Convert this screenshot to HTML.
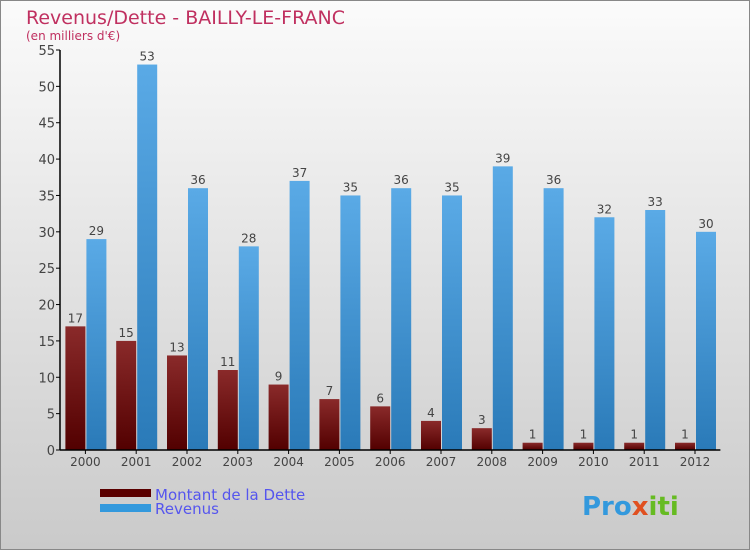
<!DOCTYPE html>
<html><head><meta charset="utf-8"><style>
body{margin:0}
svg{display:block;font-family:"DejaVu Sans","Liberation Sans",sans-serif}
</style></head><body>
<svg width="750" height="550" viewBox="0 0 750 550">
<defs>
<linearGradient id="bg" x1="0" y1="0" x2="0" y2="1"><stop offset="0" stop-color="#fbfbfb"/><stop offset="1" stop-color="#cacaca"/></linearGradient>
<linearGradient id="gd" x1="0" y1="0" x2="0" y2="1"><stop offset="0" stop-color="#8a2a2a"/><stop offset="1" stop-color="#520000"/></linearGradient>
<linearGradient id="gr" x1="0" y1="0" x2="0" y2="1"><stop offset="0" stop-color="#5aaae6"/><stop offset="1" stop-color="#2a7ab8"/></linearGradient>
</defs>
<rect x="0.5" y="0.5" width="749" height="549" fill="url(#bg)" stroke="#888"/>
<text x="26" y="24" font-size="19" fill="#c03060">Revenus/Dette - BAILLY-LE-FRANC</text>
<text x="26" y="40" font-size="12" fill="#c03060">(en milliers d'€)</text>
<g id="plot"></g>
<g>
<rect x="100" y="489" width="51" height="8" fill="#5a0000"/>
<text x="155" y="500" font-size="15" fill="#5555ee">Montant de la Dette</text>
<rect x="100" y="504" width="51" height="8" fill="#3399dd"/>
<text x="155" y="514" font-size="15" fill="#5555ee">Revenus</text>
</g>
<text x="582" y="515" font-size="26" font-weight="bold" fill="#3399dd">Pro<tspan fill="#e05020">x</tspan><tspan fill="#66bb22">iti</tspan></text>
</svg>
<script>
const categories=["2000","2001","2002","2003","2004","2005","2006","2007","2008","2009","2010","2011","2012"];
const debt=[17,15,13,11,9,7,6,4,3,1,1,1,1];
const revenue=[29,53,36,28,37,35,36,35,39,36,32,33,30];
const yTicks=[0,5,10,15,20,25,30,35,40,45,50,55];
const NS="http://www.w3.org/2000/svg";
const g=document.getElementById('plot');
const x0=60,y0=450,yTop=50,yMax=55,step=50.8;
const y=v=>y0-(v/yMax)*(y0-yTop);
function mk(t,a,txt){const e=document.createElementNS(NS,t);for(const k in a)e.setAttribute(k,a[k]);if(txt!==undefined)e.textContent=txt;g.appendChild(e);return e;}
yTicks.forEach(t=>{
 const l=mk('line',{x1:x0-4,x2:x0,y1:y(t),y2:y(t),stroke:'#000'});
 
 
 const tx=mk('text',{x:x0-5,y:y(t)+5,'font-size':13,fill:'#444','text-anchor':'end'},t);
 
 
});
categories.forEach((c,i)=>{
 const cx=x0+step*(i+0.5);
 const d=mk('rect',{x:cx-20,y:y(debt[i]),width:20,height:y0-y(debt[i]),fill:'url(#gd)'});
 
 
 const r=mk('rect',{x:cx+1,y:y(revenue[i]),width:20,height:y0-y(revenue[i]),fill:'url(#gr)'});
 
 
 const dl=mk('text',{x:cx-10,y:y(debt[i])-4,'font-size':12,fill:'#444','text-anchor':'middle'},debt[i]);
 
 
 const rl=mk('text',{x:cx+11,y:y(revenue[i])-4,'font-size':12,fill:'#444','text-anchor':'middle'},revenue[i]);
 
 
 const tk=mk('line',{x1:cx,x2:cx,y1:y0,y2:y0+4,stroke:'#000'});
 
 
 const xl=mk('text',{x:cx,y:y0+16,'font-size':12,fill:'#444','text-anchor':'middle'},c);
 
 
});
const ya=mk('line',{x1:x0,x2:x0,y1:yTop,y2:y0,stroke:'#000','stroke-width':1.5});


const xa=mk('line',{x1:x0,x2:x0+step*categories.length,y1:y0,y2:y0,stroke:'#000','stroke-width':1.5});


</script>
</body></html>
